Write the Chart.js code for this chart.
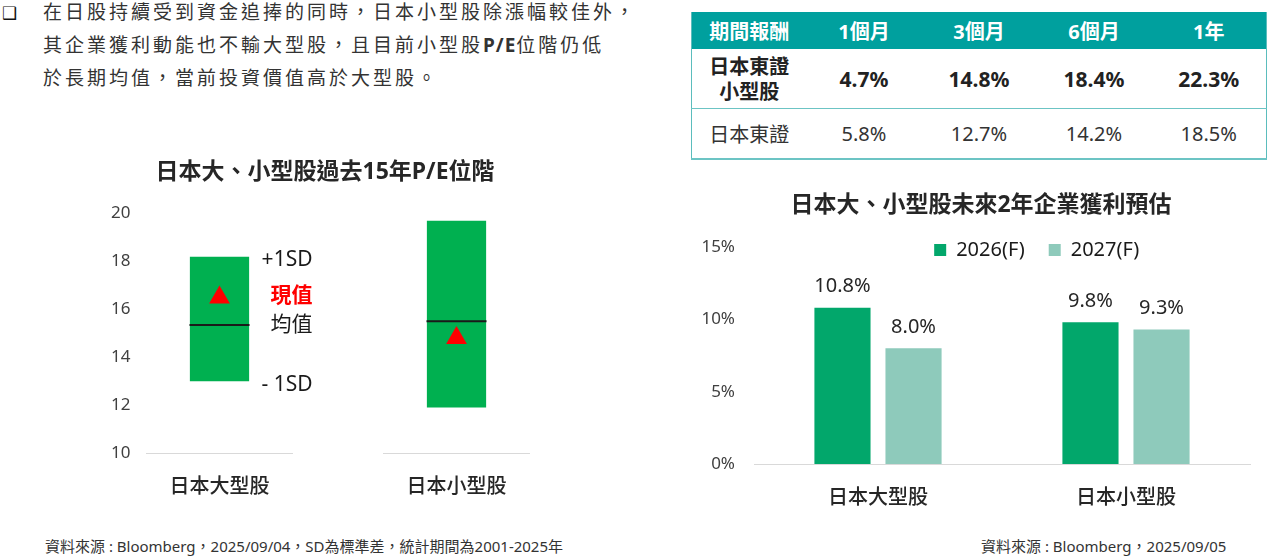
<!DOCTYPE html>
<html lang="zh-Hant">
<head>
<meta charset="utf-8">
<title>日本大、小型股</title>
<script src="https://cdn.jsdelivr.net/npm/chart.js@4.4.1/dist/chart.umd.min.js"></script>
<style>
  html, body { margin: 0; padding: 0; background: #fff; }
  body {
    width: 1272px; height: 557px; position: relative; overflow: hidden;
    font-family: "Noto Sans", "Noto Sans CJK TC", sans-serif; color: #333;
  }
  .bullet { position: absolute; left: 2px; top: -1px; font-family: "DejaVu Sans"; font-size: 17px; line-height: 28px; color: #111; }
  .intro {
    position: absolute; left: 43px; top: -4px; margin: 0;
    font-size: 19px; line-height: 33px; letter-spacing: 3px; color: #333; white-space: nowrap;
  }
  .intro b { font-weight: 700; letter-spacing: 1px; }
  table.ret {
    position: absolute; left: 691px; top: 12px; width: 576px;
    border-collapse: collapse; table-layout: fixed;
    border-left: 1px solid #5bbdbd; border-right: 1px solid #5bbdbd; border-bottom: 2px solid #6cc4c4;
  }
  table.ret th, table.ret td { text-align: center; padding: 0; }
  table.ret th { background: #00a09e; color: #fff; font-size: 20px; font-weight: 700; height: 37px; }
  table.ret tr.r1 td { height: 59px; font-size: 21px; font-weight: 700; color: #222; border-bottom: 1px solid #6cc4c4; }
  table.ret tr.r1 td.lbl { font-size: 20px; line-height: 25px; }
  table.ret tr.r2 td { height: 49px; font-size: 20px; font-weight: 400; color: #333; }
  .chartbox { position: absolute; }
  .note { position: absolute; top: 536px; font-size: 15px; line-height: 20px; color: #333; white-space: nowrap; }
</style>
</head>
<body>
<div class="bullet">❑</div>
<p class="intro">在日股持續受到資金追捧的同時，日本小型股除漲幅較佳外，<br>其企業獲利動能也不輸大型股，且目前小型股<b>P/E</b>位階仍低<br>於長期均值，當前投資價值高於大型股。</p>

<table class="ret" id="retTable"></table>

<div class="chartbox" style="left:75px; top:150px;"><canvas id="peChart" width="500" height="360"></canvas></div>
<div class="chartbox" style="left:690px; top:180px;"><canvas id="epsChart" width="582" height="340"></canvas></div>

<div class="note" style="left:45px;">資料來源 : Bloomberg，2025/09/04，SD為標準差，統計期間為2001-2025年</div>
<div class="note" style="left:981px;">資料來源 : Bloomberg，2025/09/05</div>

<script>
// 期間報酬表
const retPeriods = ['1個月', '3個月', '6個月', '1年'];
const retSmall = [4.7, 14.8, 18.4, 22.3];   // 日本東證小型股
const retTopix = [5.8, 12.7, 14.2, 18.5];   // 日本東證

// 過去15年P/E位階
const peCategories = ['日本大型股', '日本小型股'];
const peLow = [13.0, 11.9];    // -1SD
const peHigh = [18.2, 19.7];   // +1SD
const peMean = [15.35, 15.5];  // 均值
const peNow = [16.5, 14.8];    // 現值
const peTicks = [10, 12, 14, 16, 18, 20];

// 未來2年企業獲利預估 (%)
const epsCategories = ['日本大型股', '日本小型股'];
const eps2026 = [10.8, 9.8];
const eps2027 = [8.0, 9.3];
const epsTicks = [0, 5, 10, 15];

const FONT = '"Noto Sans", "Noto Sans CJK TC", sans-serif';
Chart.defaults.font.family = FONT;

// table
const table = document.getElementById('retTable');
let html = '<thead><tr><th>期間報酬</th>' + retPeriods.map(p => `<th>${p}</th>`).join('') + '</tr></thead><tbody>';
html += '<tr class="r1"><td class="lbl">日本東證<br>小型股</td>' + retSmall.map(v => `<td>${v.toFixed(1)}%</td>`).join('') + '</tr>';
html += '<tr class="r2"><td>日本東證</td>' + retTopix.map(v => `<td>${v.toFixed(1)}%</td>`).join('') + '</tr></tbody>';
table.innerHTML = html;

// gray base line under each P/E column
const peBaseline = {
  id: 'peBaseline',
  beforeDatasetsDraw(chart) {
    const {ctx, scales: {x, y}} = chart;
    const half = (x.getPixelForValue(1) - x.getPixelForValue(0)) * 0.31;
    const yy = Math.round(y.getPixelForValue(y.min)) + 0.5;
    ctx.save();
    ctx.strokeStyle = '#d9d9d9';
    ctx.lineWidth = 1;
    peCategories.forEach((c, i) => {
      const cx = x.getPixelForValue(i);
      ctx.beginPath();
      ctx.moveTo(cx - half, yy);
      ctx.lineTo(cx + half, yy);
      ctx.stroke();
    });
    ctx.restore();
  }
};

// +1SD / 現值 / 均值 / -1SD next to the first column
const sdNotes = {
  id: 'sdNotes',
  afterDatasetsDraw(chart) {
    const {ctx, scales: {y}} = chart;
    const bar = chart.getDatasetMeta(0).data[0];
    const xr = bar.x + 93;
    const notes = [
      ['+1SD', peHigh[0], '#1a1a1a', '400', 3],
      ['現值', peNow[0], '#ff0000', '700', -1],
      ['均值', peMean[0], '#1a1a1a', '400', 0],
      ['- 1SD', peLow[0], '#1a1a1a', '400', 4]
    ];
    ctx.save();
    ctx.textAlign = 'right';
    ctx.textBaseline = 'middle';
    notes.forEach(([t, v, c, w, dy]) => {
      ctx.font = `${w} 21px ${FONT}`;
      ctx.fillStyle = c;
      ctx.fillText(t, xr, y.getPixelForValue(v) + dy);
    });
    ctx.restore();
  }
};

new Chart(document.getElementById('peChart'), {
  type: 'bar',
  data: {
    labels: peCategories,
    datasets: [
      {
        label: '±1SD',
        data: peCategories.map((c, i) => [peLow[i], peHigh[i]]),
        backgroundColor: '#00b050',
        borderSkipped: false,
        barPercentage: 0.25,
        categoryPercentage: 1,
        order: 3
      },
      {
        type: 'line',
        label: '均值',
        data: peMean,
        showLine: false,
        pointStyle: 'line',
        pointRadius: 30,
        pointBorderWidth: 2,
        pointBorderColor: '#1a1a1a',
        order: 2
      },
      {
        type: 'line',
        label: '現值',
        data: peNow,
        showLine: false,
        pointStyle: 'triangle',
        pointRadius: 12,
        pointBorderWidth: 0,
        pointBackgroundColor: '#ff0000',
        order: 1
      }
    ]
  },
  options: {
    responsive: false,
    animation: false,
    events: [],
    layout: { padding: 0, autoPadding: false },
    plugins: {
      legend: { display: false },
      tooltip: { enabled: false },
      title: {
        display: true,
        text: '日本大、小型股過去15年P/E位階',
        color: '#262626',
        font: { size: 23, weight: '700' },
        padding: { top: 9, bottom: 27 }
      }
    },
    scales: {
      x: {
        grid: { display: false, drawTicks: false },
        border: { display: false },
        ticks: { color: '#262626', font: { size: 20, weight: '500' }, padding: 22, maxRotation: 0 },
        afterFit: s => { s.height = 57; }
      },
      y: {
        min: peTicks[0],
        max: peTicks[peTicks.length - 1],
        grid: { display: false, drawTicks: false },
        border: { display: false },
        ticks: { mirror: true, padding: 10, color: '#404040', font: { size: 17 } },
        afterBuildTicks: s => { s.ticks = peTicks.map(v => ({ value: v })); },
        afterFit: s => { s.width = 26; }
      }
    }
  },
  plugins: [peBaseline, sdNotes]
});

// value labels above bars
const barValueLabels = {
  id: 'barValueLabels',
  afterDatasetsDraw(chart) {
    const ctx = chart.ctx;
    ctx.save();
    ctx.font = `20px ${FONT}`;
    ctx.fillStyle = '#262626';
    ctx.textAlign = 'center';
    ctx.textBaseline = 'middle';
    chart.data.datasets.forEach((ds, i) => {
      chart.getDatasetMeta(i).data.forEach((bar, j) => {
        ctx.fillText(ds.data[j].toFixed(1) + '%', bar.x, bar.y - 21);
      });
    });
    ctx.restore();
  }
};

// legend sits inside the plot, right of centre, level with the 15% tick
const legendInside = {
  id: 'legendInside',
  afterLayout(chart) {
    const lg = chart.legend, ca = chart.chartArea;
    const w = lg.right - lg.left;
    const cx = ca.left + (ca.right - ca.left) * 0.57;
    lg.left = cx - w / 2;
    lg.right = cx + w / 2;
    lg.top = ca.top - 31;
    lg.height = 60;
    lg.bottom = lg.top + 60;
  }
};

new Chart(document.getElementById('epsChart'), {
  type: 'bar',
  data: {
    labels: epsCategories,
    datasets: [
      { label: '2026(F)', data: eps2026, backgroundColor: '#02a76b' },
      { label: '2027(F)', data: eps2027, backgroundColor: '#8ecabb' }
    ]
  },
  options: {
    responsive: false,
    animation: false,
    events: [],
    categoryPercentage: 0.573,
    barPercentage: 0.79,
    layout: { padding: 0, autoPadding: false },
    plugins: {
      tooltip: { enabled: false },
      title: {
        display: true,
        text: '日本大、小型股未來2年企業獲利預估',
        color: '#262626',
        font: { size: 23, weight: '700' },
        padding: { top: 12, bottom: 26.4 }
      },
      legend: {
        position: 'top',
        maxHeight: 1,
        labels: { boxWidth: 12, boxHeight: 12, padding: 24, color: '#1a1a1a', font: { size: 20 } }
      }
    },
    scales: {
      x: {
        grid: { display: false, drawTicks: false },
        border: { display: true, color: '#d9d9d9', width: 1 },
        ticks: { color: '#262626', font: { size: 20, weight: '500' }, padding: 22, maxRotation: 0 },
        afterFit: s => { s.height = 56; }
      },
      y: {
        min: epsTicks[0],
        max: epsTicks[epsTicks.length - 1],
        grid: { display: false, drawTicks: false },
        border: { display: false },
        ticks: { padding: 19, color: '#404040', font: { size: 17 }, callback: v => v + '%' },
        afterBuildTicks: s => { s.ticks = epsTicks.map(v => ({ value: v })); },
        afterFit: s => { s.width = 64; }
      },
      // empty right-hand margin so the title stays centred on the whole panel
      yRight: {
        position: 'right',
        display: true,
        grid: { display: false, drawTicks: false },
        border: { display: false },
        ticks: { display: false },
        afterFit: s => { s.width = 22; }
      }
    }
  },
  plugins: [barValueLabels, legendInside]
});
</script>
</body>
</html>
